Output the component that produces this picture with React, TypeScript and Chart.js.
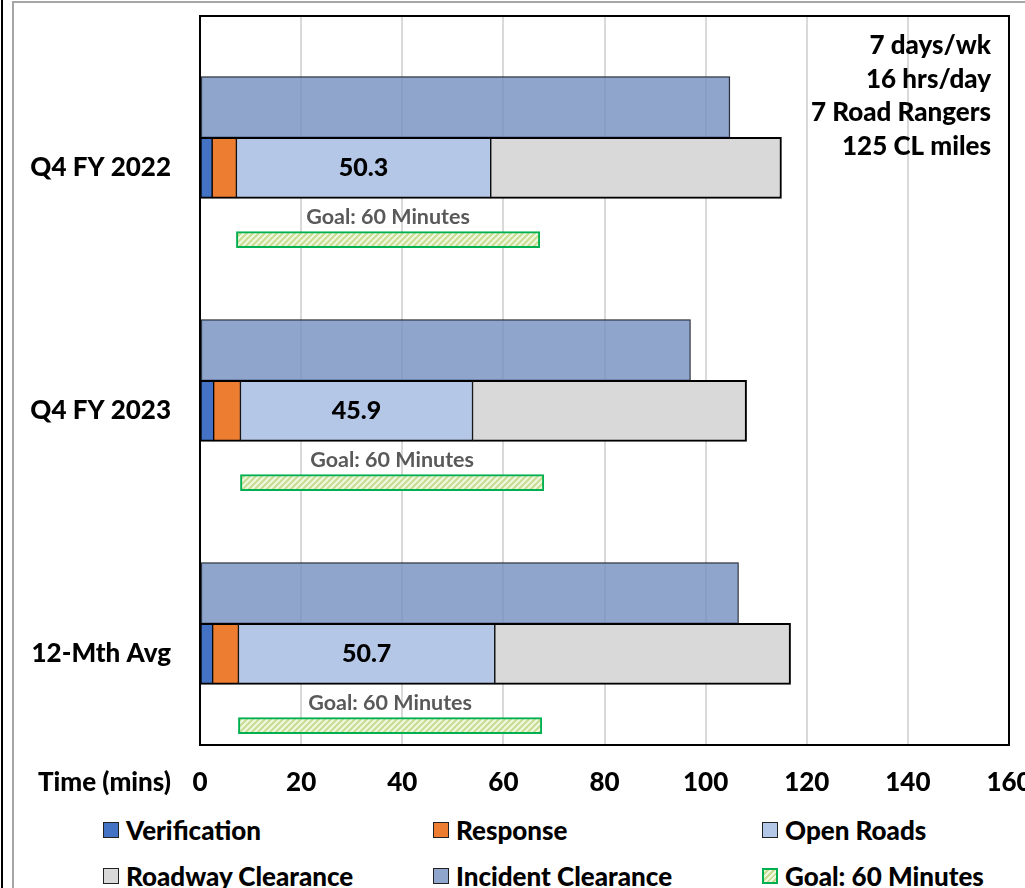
import React, { useEffect, useRef } from 'react';
import { Chart, registerables } from 'chart.js';

Chart.register(...registerables);

// ---------- data ----------
const categories = ['Q4 FY 2022', 'Q4 FY 2023', '12-Mth Avg'];
const verification = [2.4, 2.7, 2.5];
const response = [4.8, 5.3, 5.1];
const openRoads = [50.3, 45.9, 50.7];
const roadwayClearance = [57.5, 54.2, 58.5];
const incidentClearance = [104.8, 97.0, 106.5];
const goalMinutes = [60, 60, 60];
const xTickMin = 0;
const xTickMax = 160;
const xTickStep = 20;
const seriesNames = ['Verification', 'Response', 'Open Roads', 'Roadway Clearance', 'Incident Clearance', 'Goal: 60 Minutes'];
const goalLabel = 'Goal: 60 Minutes';
const axisTitle = 'Time (mins)';
const notes = ['7 days/wk', '16 hrs/day', '7 Road Rangers', '125 CL miles'];

// ---------- style / layout ----------
const FONT = 'Lato';
const W = 900;
const C_VERIF = '#4472C4';
const C_RESP = '#ED7D31';
const C_OPEN = '#B4C7E7';
const C_ROAD = '#D9D9D9';
const C_INC = 'rgba(118,145,192,0.82)';
const C_GOAL_BORDER = '#00B050';
const INC_OFFSET = -0.125;
const MAIN_OFFSET = 0.125;
const GOAL_OFFSET = 0.42;

function makeGoalPattern(ctx: CanvasRenderingContext2D) {
  const c = document.createElement('canvas');
  c.width = 6;
  c.height = 6;
  const g = c.getContext('2d')!;
  g.fillStyle = '#f1f7df';
  g.fillRect(0, 0, 6, 6);
  g.strokeStyle = '#c6dd93';
  g.lineWidth = 2;
  g.beginPath();
  g.moveTo(0, 6); g.lineTo(6, 0);
  g.moveTo(-3, 3); g.lineTo(3, -3);
  g.moveTo(3, 9); g.lineTo(9, 3);
  g.stroke();
  return ctx.createPattern(c, 'repeat')!;
}

const annotationPlugin = {
  id: 'annotations',
  afterDatasetsDraw(chart: any) {
    const ctx = chart.ctx as CanvasRenderingContext2D;
    ctx.save();
    ctx.textAlign = 'center';
    ctx.textBaseline = 'middle';
    // open roads value labels
    ctx.font = `${W} 25px ${FONT}`;
    ctx.fillStyle = '#000';
    chart.getDatasetMeta(2).data.forEach((el: any, i: number) => {
      const p = el.getProps(['x', 'base', 'y'], true);
      ctx.fillText(openRoads[i].toFixed(1), (p.x + p.base) / 2, p.y);
    });
    // goal labels
    ctx.font = `bold 21.5px ${FONT}`;
    ctx.fillStyle = '#595959';
    chart.getDatasetMeta(5).data.forEach((el: any) => {
      const p = el.getProps(['x', 'base', 'y', 'height'], true);
      ctx.fillText(goalLabel, (p.x + p.base) / 2, p.y - p.height / 2 - 14);
    });
    ctx.restore();
  },
  afterDraw(chart: any) {
    const ctx = chart.ctx as CanvasRenderingContext2D;
    const a = chart.chartArea;
    ctx.save();
    // plot border
    ctx.strokeStyle = '#000';
    ctx.lineWidth = 2;
    ctx.strokeRect(a.left, a.top, a.right - a.left, a.bottom - a.top);
    // notes
    ctx.font = `${W} 26px ${FONT}`;
    ctx.fillStyle = '#000';
    ctx.textAlign = 'right';
    ctx.textBaseline = 'middle';
    notes.forEach((t, i) => ctx.fillText(t, a.right - 18, a.top + 30 + i * 33.5));
    // axis title to the left of x tick labels
    ctx.fillText(axisTitle, a.left - 29, a.bottom + 22 + 15.6);
    ctx.restore();
  },
};

export default function App() {
  const canvasRef = useRef<HTMLCanvasElement>(null);

  useEffect(() => {
    const canvas = canvasRef.current!;
    const ctx = canvas.getContext('2d')!;
    Chart.defaults.font.family = FONT;
    const pattern = makeGoalPattern(ctx);
    const mainBorder = { top: 2, bottom: 2, left: 1, right: 1 };

    const mainPoint = (arr: number[]) => categories.map((_, i) => ({ x: arr[i], y: i + MAIN_OFFSET }));

    const chart = new Chart(ctx, {
      type: 'bar',
      data: {
        datasets: [
          { label: seriesNames[0], data: mainPoint(verification), stack: 'main', backgroundColor: C_VERIF, borderColor: '#000', borderWidth: mainBorder, borderSkipped: false, barThickness: 61 },
          { label: seriesNames[1], data: mainPoint(response), stack: 'main', backgroundColor: C_RESP, borderColor: '#000', borderWidth: mainBorder, borderSkipped: false, barThickness: 61 },
          { label: seriesNames[2], data: mainPoint(openRoads), stack: 'main', backgroundColor: C_OPEN, borderColor: '#000', borderWidth: mainBorder, borderSkipped: false, barThickness: 61 },
          { label: seriesNames[3], data: mainPoint(roadwayClearance), stack: 'main', backgroundColor: C_ROAD, borderColor: '#000', borderWidth: { top: 2, bottom: 2, left: 1, right: 2 }, borderSkipped: false, barThickness: 61 },
          { label: seriesNames[4], data: categories.map((_, i) => ({ x: incidentClearance[i], y: i + INC_OFFSET })), stack: 'incident', backgroundColor: C_INC, borderColor: '#1a1a1a', borderWidth: 1, borderSkipped: false, barThickness: 61 },
          { label: seriesNames[5], data: categories.map((_, i) => ({ x: [verification[i] + response[i], verification[i] + response[i] + goalMinutes[i]], y: i + GOAL_OFFSET })), stack: 'goal', backgroundColor: pattern, borderColor: C_GOAL_BORDER, borderWidth: 2, borderSkipped: false, barThickness: 16 },
        ] as any,
      },
      options: {
        indexAxis: 'y',
        responsive: false,
        animation: false,
        datasets: { bar: { grouped: false } } as any,
        layout: { padding: { left: 12, right: 31, top: 16, bottom: 0 } },
        plugins: { legend: { display: false }, tooltip: { enabled: false } },
        scales: {
          x: {
            type: 'linear',
            min: xTickMin,
            max: xTickMax,
            stacked: true,
            grid: { color: '#d9d9d9', lineWidth: 2, drawTicks: false },
            border: { display: false },
            ticks: { stepSize: xTickStep, color: '#000', font: { family: FONT, size: 26, weight: W }, padding: 22, maxRotation: 0 },
            afterFit: (s: any) => { s.height = 55; s.paddingLeft = 0; s.paddingRight = 0; },
          },
          y: {
            type: 'linear',
            min: -0.5,
            max: categories.length - 0.5,
            reverse: true,
            offset: false,
            grid: { display: false, drawTicks: false, offset: false },
            border: { display: false },
            afterBuildTicks: (s: any) => { s.ticks = categories.map((_, i) => ({ value: i + MAIN_OFFSET })); },
            afterFit: (s: any) => { s.width = 188; s.paddingTop = 0; s.paddingBottom = 0; },
            ticks: { autoSkip: false, color: '#000', font: { family: FONT, size: 26, weight: W }, padding: 29, callback: (_v: any, i: number) => categories[i] },
          },
        } as any,
      },
      plugins: [annotationPlugin],
    });
    return () => chart.destroy();
  }, []);

  const legendStyles = [
    { background: C_VERIF, border: '1.5px solid #222' },
    { background: C_RESP, border: '1.5px solid #222' },
    { background: C_OPEN, border: '1.5px solid #222' },
    { background: C_ROAD, border: '1.5px solid #222' },
    { background: 'rgb(143,165,203)', border: '1.5px solid #222' },
    { background: 'repeating-linear-gradient(135deg, #f1f7df 0px, #f1f7df 2px, #c6dd93 2px, #c6dd93 4px)', border: `2px solid ${C_GOAL_BORDER}` },
  ];
  const cols = [103, 433, 762];
  const rowCenters = [830, 876];

  return (
    <div style={{ position: 'fixed', left: 0, top: 0, width: 1025, height: 888, overflow: 'hidden', background: '#fff', fontFamily: FONT }}>
      <div style={{ position: 'absolute', left: 1, top: 0, width: 2, height: 888, background: '#000' }} />
      <div style={{ position: 'absolute', left: 12, top: 1, width: 1100, height: 1000, border: '2px solid #a6a6a6', boxSizing: 'border-box' }} />
      <canvas ref={canvasRef} width={1040} height={800} style={{ position: 'absolute', left: 0, top: 0, width: 1040, height: 800, display: 'block' }} />
      {seriesNames.map((name, k) => (
        <div key={name} style={{ position: 'absolute', left: cols[k % 3], top: rowCenters[Math.floor(k / 3)] - 16, height: 32, display: 'flex', alignItems: 'center', whiteSpace: 'nowrap' }}>
          <div style={{ width: 16, height: 16, boxSizing: 'border-box', marginRight: 7, ...legendStyles[k] }} />
          <span style={{ fontWeight: W, fontSize: 26, lineHeight: '32px', color: '#000' }}>{name}</span>
        </div>
      ))}
    </div>
  );
}
